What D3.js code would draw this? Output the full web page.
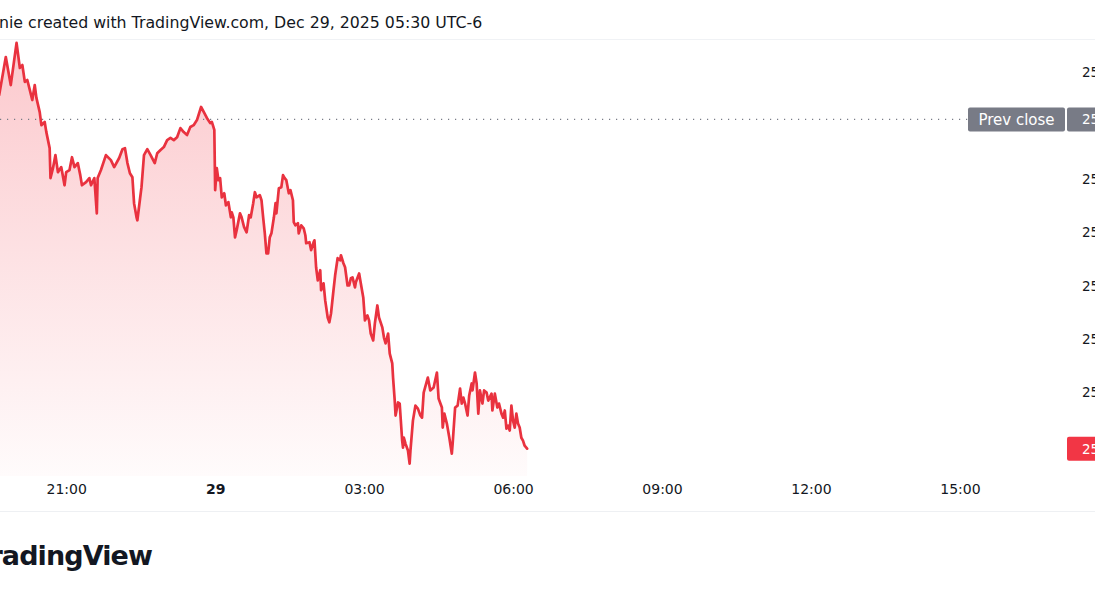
<!DOCTYPE html>
<html><head><meta charset="utf-8">
<script src="https://cdn.jsdelivr.net/npm/d3@7"></script>
<style>body{margin:0;background:#fff;overflow:hidden}svg{display:block}</style>
</head><body>
<svg id="c" width="1095" height="600"></svg>
<script>
// minutes relative to Dec 29 00:00 (chart time)
const minutes = [
-261,-253,-247,-240,-236,-233,-230,-227,-224,-221,
-218,-216,-212,-210,-206,-204,-200,-199,-196,-193,
-190,-186,-182,-180,-176,-173,-170,-166,-163,-161,
-156,-152,-150,-146,-143,-142,-138,-132,-126,-122,
-116,-112,-109,-106,-103,-100,-98,-95,-94,-91,
-89,-86,-82,-78,-73,-70,-66,-62,-58,-54,
-50,-46,-42,-38,-34,-30,-26,-22,-17,-13,
-10,-6,-4,-1,0,2,4,6,8,11,
13,16,19,20,22,24,26,30,32,35,
38,41,43,46,48,50,54,56,58,60,
62,64,66,68,71,73,74,77,80,82,
84,86,89,91,94,95,97,100,101,104,
107,109,110,114,116,119,120,122,124,127,
128,131,133,136,138,140,143,145,148,151,
152,155,157,160,162,164,166,169,170,174,
176,179,181,184,186,188,191,193,196,198,
202,204,206,209,211,214,215,217,218,221,
223,226,227,228,230,233,235,236,239,242,
245,248,250,252,256,257,260,264,268,270,
274,275,277,280,283,286,287,290,293,296,
298,300,302,305,307,310,311,314,316,318,
320,323,325,328,330,334,335,338,341,343,
346,348,350,352,354,356,358,360,362,364,
366,368,370,372,374,377];
const prices = [
25791.4,25805.6,25795.1,25810.9,25801.5,25802.6,25796.3,25797,25793.3,25789.5,
25795.1,25790.3,25785,25780.1,25781.3,25777.5,25771.5,25760.3,25764,25768.9,
25762.5,25764.4,25757.6,25762.5,25763.3,25768.1,25764.4,25765.9,25761.4,25757.6,
25758.8,25760.3,25757.6,25760.3,25747.1,25760.3,25763.3,25768.9,25767,25764.4,
25767.8,25771.1,25771.5,25765.9,25762.1,25760.6,25750.9,25745.6,25744.5,25752,
25756.9,25768.9,25771.1,25768.9,25765.9,25769.6,25770.8,25771.9,25774.5,25775.3,
25774.5,25775.6,25779,25777.5,25776.4,25779.4,25780.1,25782,25786.9,25784.6,
25782.8,25780.9,25781.3,25778.3,25755.8,25764,25759.5,25760.3,25753.1,25754.6,
25750.1,25751.3,25745.6,25747.5,25745.6,25738.1,25740.8,25747.1,25745.6,25741.9,
25740,25746.4,25745.6,25750.9,25755,25753.1,25753.9,25752,25745.6,25739.6,
25732.1,25732.1,25738.1,25739.6,25745.6,25750.9,25747.1,25756.5,25756.9,25761.4,
25760.3,25759.5,25754.6,25755.8,25752,25743.8,25742.6,25743.4,25739.6,25742.6,
25741.5,25738.9,25735.9,25736.3,25733.3,25736.3,25737,25726.9,25722,25725.8,
25718.3,25720.9,25714.5,25708.1,25706.3,25709.6,25718.3,25723.9,25730.3,25729.5,
25731.4,25728.4,25726.9,25720.1,25720.1,25722.8,25723.1,25719.4,25721.3,25724.6,
25720.9,25715.6,25707,25708.9,25707,25702.1,25699.5,25705.9,25712.6,25708.1,
25704.4,25700.6,25698.4,25702.1,25694.6,25690.9,25685.6,25677,25671.4,25676.3,
25675.9,25662,25659.4,25663.1,25660.9,25658.3,25653.4,25658.3,25669.5,25675.1,
25674,25671.4,25670.6,25680,25684.5,25685.6,25680.8,25681.9,25687.5,25677.8,
25674.4,25666.9,25672.1,25668.4,25663.1,25657.1,25660.9,25674.4,25675.1,25681.5,
25675.9,25678.1,25675.9,25671.4,25678.9,25683.4,25680.8,25687.5,25683.4,25672.1,
25680.8,25675.9,25680.8,25680,25677,25679.6,25673.3,25679.6,25674.4,25675.9,
25672.1,25670.6,25673.3,25666.5,25667.6,25665.8,25675.1,25669.5,25666.9,25672.1,
25668.4,25666.9,25663.1,25662,25660.1,25659];
const prevClose = 25782.25;
const yTicks = [25800, 25780, 25760, 25740, 25720, 25700, 25680, 25660];
const xTickMinutes = [-180, 0, 180, 360, 540, 720, 900];
const xTickLabels = ["21:00", "29", "03:00", "06:00", "09:00", "12:00", "15:00"];
const titleText = "nie created with TradingView.com, Dec 29, 2025 05:30 UTC-6";

const W = 1095, H = 600, paneR = 1065, paneT = 40, paneB = 476;
const RED = "#f23645", LINE = "#e9323f", GREY = "#787b86", FONT = "'DejaVu Sans', sans-serif";
const svg = d3.select("#c");
svg.append("rect").attr("width", W).attr("height", H).attr("fill", "#fff");

const base = new Date(2025, 11, 29, 0, 0);
const t = m => new Date(base.getTime() + m * 60000);
const x = d3.scaleTime().domain([t(-260), t(1027)]).range([0, paneR]);
const y = d3.scaleLinear().domain([25660, 25800]).range([446, 72]);
const data = minutes.map((m, i) => ({ t: t(m), p: prices[i] }));

const defs = svg.append("defs");
const g = defs.append("linearGradient").attr("id", "fillG")
  .attr("gradientUnits", "userSpaceOnUse")
  .attr("x1", 0).attr("x2", 0).attr("y1", y(d3.max(prices))).attr("y2", paneB);
g.append("stop").attr("offset", 0).attr("stop-color", RED).attr("stop-opacity", 0.27);
g.append("stop").attr("offset", 1).attr("stop-color", RED).attr("stop-opacity", 0.02);
defs.append("clipPath").attr("id", "pane").append("rect")
  .attr("x", 0).attr("y", paneT).attr("width", paneR).attr("height", paneB - paneT);

// separators
svg.append("line").attr("x1", 0).attr("x2", W).attr("y1", 39.5).attr("y2", 39.5)
  .attr("stroke", "#f0f2f5").attr("stroke-width", 1);
svg.append("line").attr("x1", 0).attr("x2", W).attr("y1", 511.5).attr("y2", 511.5)
  .attr("stroke", "#eef0f3").attr("stroke-width", 1);

const pane = svg.append("g").attr("clip-path", "url(#pane)");
pane.append("path").datum(data)
  .attr("d", d3.area().x(d => x(d.t)).y0(paneB).y1(d => y(d.p)))
  .attr("fill", "url(#fillG)");
pane.append("line").attr("x1", 0).attr("x2", 968)
  .attr("y1", y(prevClose)).attr("y2", y(prevClose))
  .attr("stroke", GREY).attr("stroke-width", 1.2).attr("stroke-dasharray", "1.2 5.8");
pane.append("path").datum(data)
  .attr("d", d3.line().x(d => x(d.t)).y(d => y(d.p)))
  .attr("fill", "none").attr("stroke", LINE).attr("stroke-width", 2.7)
  .attr("stroke-linejoin", "round").attr("stroke-linecap", "round");

// title
const title = svg.append("text").attr("x", -1).attr("y", 28)
  .attr("font-family", FONT).attr("font-size", 16).attr("fill", "#131722").text(titleText);
const tw = title.node().getComputedTextLength();
title.attr("font-size", 16 * 484 / tw);

// x axis
const xAxis = d3.axisBottom(x).tickValues(xTickMinutes.map(t))
  .tickFormat((d, i) => xTickLabels[i]).tickSize(0).tickPadding(0);
const xg = svg.append("g").attr("transform", "translate(0,484)").call(xAxis);
xg.select(".domain").remove();
xg.selectAll("text").attr("font-family", FONT).attr("font-size", 14).attr("fill", "#131722")
  .attr("font-weight", (d, i) => xTickLabels[i] === "29" ? "bold" : "normal");

// y axis
const yAxis = d3.axisRight(y).tickValues(yTicks).tickFormat(d3.format(".2f")).tickSize(0).tickPadding(0);
const yg = svg.append("g").attr("transform", "translate(1082,0)").call(yAxis);
yg.select(".domain").remove();
yg.selectAll("text").attr("font-family", FONT).attr("font-size", 13.5).attr("fill", "#131722");

// prev close labels
const yp = y(prevClose);
svg.append("rect").attr("x", 968).attr("y", yp - 12).attr("width", 97).attr("height", 24)
  .attr("rx", 2).attr("fill", GREY);
svg.append("text").attr("x", 1016.5).attr("y", yp + 5.5).attr("text-anchor", "middle")
  .attr("font-family", FONT).attr("font-size", 15).attr("fill", "#fff").text("Prev close");
svg.append("rect").attr("x", 1067).attr("y", yp - 12).attr("width", 40).attr("height", 24)
  .attr("rx", 2).attr("fill", GREY);
svg.append("text").attr("x", 1082).attr("y", yp + 5).attr("font-family", FONT)
  .attr("font-size", 13.5).attr("fill", "#fff").text(d3.format(".2f")(prevClose));

// last price label
const last = prices[prices.length - 1];
const yl = y(last);
svg.append("rect").attr("x", 1067).attr("y", yl - 12).attr("width", 40).attr("height", 24)
  .attr("rx", 2).attr("fill", RED);
svg.append("text").attr("x", 1082).attr("y", yl + 5).attr("font-family", FONT)
  .attr("font-size", 13.5).attr("fill", "#fff").text(d3.format(".2f")(last));

// logo
const logo = svg.append("text").attr("x", 0).attr("y", 565)
  .attr("font-family", "'DejaVu Sans', sans-serif").attr("font-weight", 700)
  .attr("font-size", 27).attr("letter-spacing", -0.9).attr("fill", "#131722").text("TradingView");
const lb = logo.node().getBBox();
logo.attr("x", 152 - (lb.x + lb.width));
</script>
</body></html>
